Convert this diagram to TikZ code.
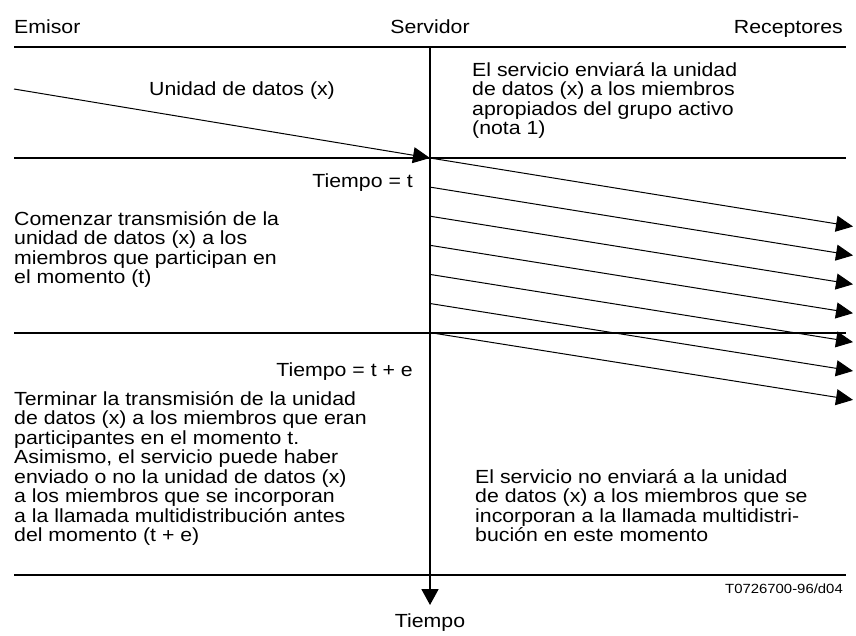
\documentclass[tikz,border=0pt]{standalone}
\usepackage{fontspec}
\setmainfont[FakeStretch=1.12]{Liberation Sans}
\usetikzlibrary{arrows.meta}
\newcommand{\mlines}[1]{\begin{tabular}[t]{@{}l@{}}#1\end{tabular}}
\begin{document}
\begin{tikzpicture}[x=1pt,y=-1pt,
  rule/.style={line width=2.2pt},
  axis/.style={line width=1.8pt,-{Triangle[length=16pt,width=17pt]}},
  msg/.style={line width=1pt,-{Triangle[length=17pt,width=16pt]}},
  lbl/.style={inner sep=0pt,font=\fontsize{19}{19.2}\selectfont},
  small/.style={inner sep=0pt,font=\fontsize{13.3}{15}\selectfont}]
\useasboundingbox (0,0) rectangle (856,635);

% horizontal rules
\coordinate (h1l) at (14,47);  \coordinate (h1r) at (846,47);
\coordinate (h2l) at (14,158); \coordinate (h2r) at (846,158);
\coordinate (h3l) at (14,333); \coordinate (h3r) at (846,333);
\coordinate (h4l) at (14,575); \coordinate (h4r) at (846,575);
\draw[rule] (h1l) -- (h1r);
\draw[rule] (h2l) -- (h2r);
\draw[rule] (h3l) -- (h3r);
\draw[rule] (h4l) -- (h4r);

% time axis
\coordinate (ax0) at (430,47);
\coordinate (ax1) at (430,605);
\draw[axis] (ax0) -- (ax1);

% incoming data unit
\coordinate (in0) at (14,89);
\coordinate (srv) at (430,158);
\draw[msg] (in0) -- (srv);

% outgoing transmissions
\foreach \i in {0,...,6}{
  \coordinate (s\i) at (430,{158+29.1*\i});
  \coordinate (e\i) at (853,{226.5+28.9*\i});
  \draw[msg] (s\i) -- (e\i);
}

% headers
\node[lbl,anchor=base west] (emisor) at (14,33) {Emisor};
\node[lbl,anchor=base] (servidor) at (430,33) {Servidor};
\node[lbl,anchor=base east] (receptores) at (843,33) {Receptores};

% texts
\node[lbl,anchor=base] (unidad) at (242,95) {Unidad de datos (x)};
\node[lbl,anchor=base west] (nota) at (472,76) {\mlines{El servicio enviará la unidad\\de datos (x) a los miembros\\apropiados del grupo activo\\(nota 1)}};
\node[lbl,anchor=base east] (tt) at (413,187) {Tiempo = t};
\node[lbl,anchor=base west] (comenzar) at (14,225) {\mlines{Comenzar transmisión de la\\unidad de datos (x) a los\\miembros que participan en\\el momento (t)}};
\node[lbl,anchor=base east] (tte) at (413,376) {Tiempo = t + e};
\node[lbl,anchor=base west] (terminar) at (14,405) {\mlines{Terminar la transmisión de la unidad\\de datos (x) a los miembros que eran\\participantes en el momento t.\\Asimismo, el servicio puede haber\\enviado o no la unidad de datos (x)\\a los miembros que se incorporan\\a la llamada multidistribución antes\\del momento (t + e)}};
\node[lbl,anchor=base west] (noenvia) at (475,483) {\mlines{El servicio no enviará a la unidad\\de datos (x) a los miembros que se\\incorporan a la llamada multidistri-\\bución en este momento}};
\node[small,anchor=base east] (ref) at (843,593) {T0726700-96/d04};
\node[lbl,anchor=base] (tiempo) at (430,627) {Tiempo};
\end{tikzpicture}
\end{document}
